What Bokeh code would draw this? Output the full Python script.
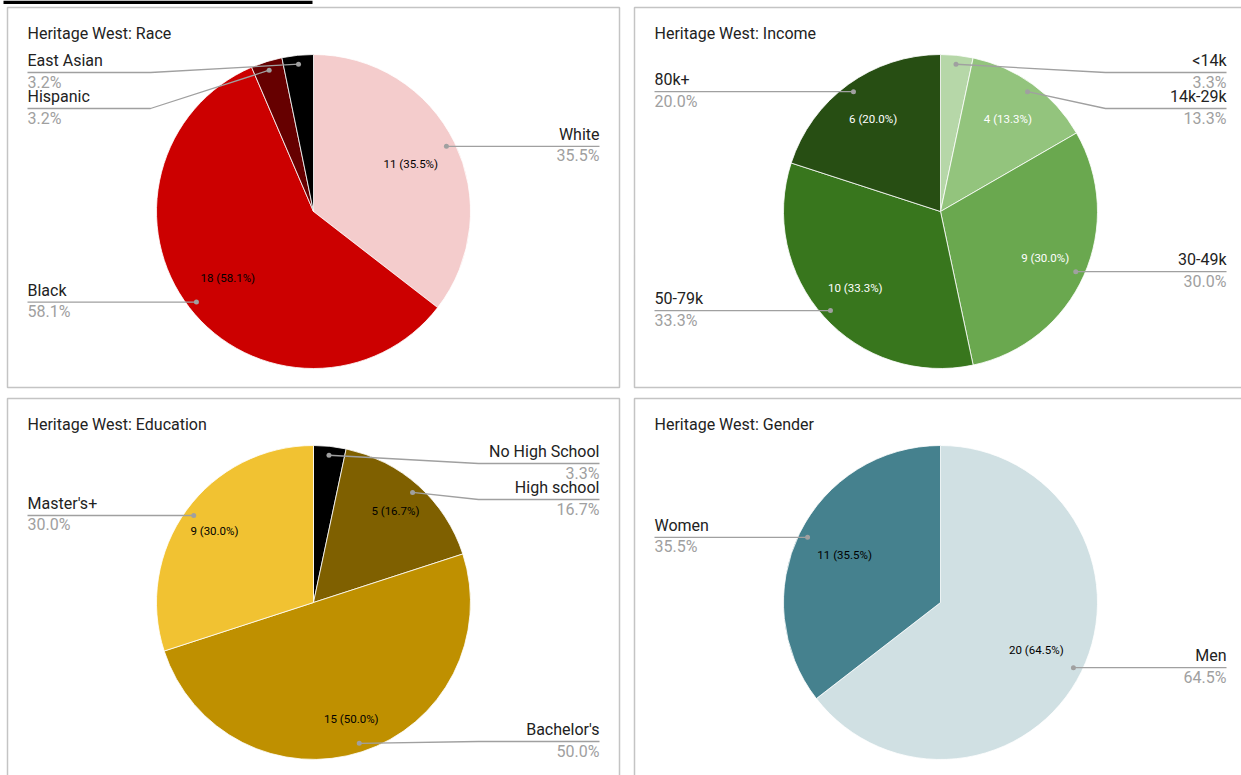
import math
from bokeh.plotting import figure
from bokeh.models import ColumnDataSource, Range1d
from bokeh.core.properties import value
from bokeh.embed import file_html
from bokeh.resources import INLINE

# ---------------- data ----------------
race_title = "Heritage West: Race"
race_labels = ["White", "Black", "Hispanic", "East Asian"]
race_counts = [11, 18, 1, 1]
race_colors = ["#f4cccc", "#cc0000", "#660000", "#000000"]
race_text_color = "#000000"

income_title = "Heritage West: Income"
income_labels = ["<14k", "14k-29k", "30-49k", "50-79k", "80k+"]
income_counts = [1, 4, 9, 10, 6]
income_colors = ["#b6d7a8", "#93c47d", "#6aa84f", "#38761d", "#274e13"]
income_text_color = "#ffffff"

education_title = "Heritage West: Education"
education_labels = ["No High School", "High school", "Bachelor's", "Master's+"]
education_counts = [1, 5, 15, 9]
education_colors = ["#000000", "#7f6000", "#bf9000", "#f1c232"]
education_text_color = "#000000"

gender_title = "Heritage West: Gender"
gender_labels = ["Men", "Women"]
gender_counts = [20, 11]
gender_colors = ["#d0e0e3", "#45818e"]
gender_text_color = "#000000"

# ---------------- layout ----------------
W, H = 1241, 775
FONT = value("Roboto")
LINE_GRAY = "#a0a0a0"


def sy(y):
    return H - y


p = figure(width=W, height=H, x_range=Range1d(0, W), y_range=Range1d(0, H),
           output_backend="svg", toolbar_location=None, min_border=0,
           x_axis_location=None, y_axis_location=None,
           outline_line_color=None, background_fill_color="white")
p.grid.visible = False

# cut-off heading bar at top of page
p.quad(left=[3], right=[312], top=[sy(0)], bottom=[sy(3.5)], fill_color="black", line_color=None)

PANEL_W, PANEL_H = 612, 380


def draw_pie(pl, pt, title, labels, counts, colors, text_color, label_frac):
    # panel border
    p.quad(left=[pl], right=[pl + PANEL_W], top=[sy(pt)], bottom=[sy(pt + PANEL_H)],
           fill_color=None, line_color="#c4c4c4", line_width=1.5)
    p.text(x=[pl + 20], y=[sy(pt + 25.5)], text=[title], text_font=FONT,
           text_font_size="16px", text_color="#222222", text_baseline="alphabetic")

    cx, cy, r = pl + 306, pt + 204, 157
    total = float(sum(counts))
    fr = [c / total for c in counts]
    c0 = [sum(fr[:i]) for i in range(len(fr))]
    c1 = [c0[i] + fr[i] for i in range(len(fr))]
    src = ColumnDataSource(dict(
        start=[math.pi / 2 - 2 * math.pi * b for b in c1],
        end=[math.pi / 2 - 2 * math.pi * a for a in c0],
        color=colors))
    p.wedge(x=cx, y=sy(cy), radius=r, start_angle="start", end_angle="end",
            fill_color="color", line_color="white", line_width=0.8, source=src)

    mids = [2 * math.pi * (a + b) / 2 for a, b in zip(c0, c1)]
    # inside labels
    tx, ty, tt = [], [], []
    for i, f in enumerate(fr):
        if f < 0.05:
            continue
        d = label_frac * r
        tx.append(cx + d * math.sin(mids[i]))
        ty.append(sy(cy - d * math.cos(mids[i])))
        tt.append("%d (%.1f%%)" % (counts[i], 100 * f))
    p.text(x=tx, y=ty, text=tt, text_font=FONT, text_font_size="11.5px",
           text_color=text_color, text_align="center", text_baseline="middle")

    # leader dots + outside labels
    dd = 0.943 * r
    dots = [(cx + dd * math.sin(m), cy - dd * math.cos(m)) for m in mids]
    top_lim, bot_lim, gap = cy - 139, cy + 139, 36
    line_y = [0.0] * len(labels)
    for side in ("left", "right"):
        idx = [i for i in range(len(labels)) if (dots[i][0] < cx) == (side == "left")]
        idx.sort(key=lambda i: dots[i][1])
        prev = None
        for i in idx:
            y = max(dots[i][1], top_lim)
            if prev is not None:
                y = max(y, prev + gap)
            y = min(y, bot_lim)
            line_y[i] = y
            prev = y
    xs, ys = [], []
    nx, ny, nt, na = [], [], [], []
    px_, py_, pt_, pa = [], [], [], []
    left_x, right_x = pl + 20, pl + PANEL_W - 20
    for i in range(len(labels)):
        dx, dy = dots[i]
        if dx < cx:
            ex, end, align = left_x + 123, left_x, "left"
        else:
            ex, end, align = right_x - 121, right_x, "right"
        xs.append([dx, ex, end])
        ys.append([sy(dy), sy(line_y[i]), sy(line_y[i])])
        nx.append(end); ny.append(sy(line_y[i] - 12)); nt.append(labels[i]); na.append(align)
        px_.append(end); py_.append(sy(line_y[i] + 9.5)); pt_.append("%.1f%%" % (100 * fr[i])); pa.append(align)
    p.multi_line(xs=xs, ys=ys, line_color=LINE_GRAY, line_width=1.3)
    p.scatter(x=[d[0] for d in dots], y=[sy(d[1]) for d in dots], size=5,
              fill_color=LINE_GRAY, line_color=None)
    p.text(x="x", y="y", text="t", text_align="a", source=ColumnDataSource(dict(x=nx, y=ny, t=nt, a=na)),
           text_font=FONT, text_font_size="16px", text_color="#222222", text_baseline="alphabetic")
    p.text(x="x", y="y", text="t", text_align="a", source=ColumnDataSource(dict(x=px_, y=py_, t=pt_, a=pa)),
           text_font=FONT, text_font_size="16px", text_color="#a0a0a0", text_baseline="alphabetic")


draw_pie(7, 7, race_title, race_labels, race_counts, race_colors, race_text_color, 0.69)
draw_pie(634, 7, income_title, income_labels, income_counts, income_colors, income_text_color, 0.73)
draw_pie(7, 398, education_title, education_labels, education_counts, education_colors, education_text_color, 0.78)
draw_pie(634, 398, gender_title, gender_labels, gender_counts, gender_colors, gender_text_color, 0.68)

open("out.html", "w").write(file_html(p, INLINE))
